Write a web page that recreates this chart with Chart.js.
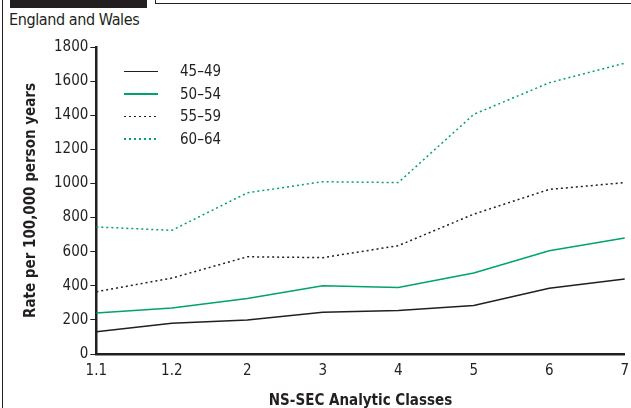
<!DOCTYPE html>
<html>
<head>
<meta charset="utf-8">
<script src="https://cdn.jsdelivr.net/npm/chart.js@4.4.0/dist/chart.umd.min.js"></script>
<style>
  body { margin: 0; background: #fff; font-family: "DejaVu Sans Condensed", "Liberation Sans", sans-serif; }
  #frame { position: relative; width: 631px; height: 408px; overflow: hidden; }
  #bar { position: absolute; left: 10px; top: 0; width: 137px; height: 8px; background: #231f20; }
  #box { position: absolute; left: 155px; top: -2px; width: 480px; height: 5px; border: 1px solid #231f20; border-top: none; }
  #leftline { position: absolute; left: 2px; top: 0; width: 1px; height: 408px; background: #231f20; }
  #title { position: absolute; left: 9px; top: 10px; font-size: 16px; color: #231f20; letter-spacing: -0.4px; }
  #wrap { position: absolute; left: 0; top: 36px; width: 631px; height: 378px; }
  #legend { position: absolute; left: 124px; top: 60px; font-size: 15px; color: #231f20; }
  .row { display: flex; align-items: center; height: 22.5px; }
  .sw { width: 34px; margin-right: 22px; height: 1.5px; }
</style>
</head>
<body>
<div id="frame">
  <div id="leftline"></div>
  <div id="bar"></div>
  <div id="box"></div>
  <div id="title">England and Wales</div>
  <div id="wrap"><canvas id="chart"></canvas></div>
  <div id="legend"></div>
</div>
<script>
// Dati
const classes = ['1.1', '1.2', '2', '3', '4', '5', '6', '7'];
const age4549 = [130, 180, 200, 245, 255, 285, 385, 440];
const age5054 = [240, 270, 325, 400, 390, 475, 605, 680];
const age5559 = [365, 445, 570, 565, 635, 820, 965, 1005];
const age6064 = [745, 725, 945, 1010, 1005, 1405, 1590, 1705];

const series = [
    { label: '45–49', data: age4549, color: '#231f20', dash: [] },
    { label: '50–54', data: age5054, color: '#00a36c', dash: [] },
    { label: '55–59', data: age5559, color: '#231f20', dash: [2, 3] },
    { label: '60–64', data: age6064, color: '#00a36c', dash: [2, 3] }
];

const FONT = '"DejaVu Sans Condensed", "Liberation Sans", sans-serif';

// Legenda HTML
const legendEl = document.getElementById('legend');
series.forEach(s => {
    const row = document.createElement('div');
    row.className = 'row';
    const sw = document.createElement('div');
    sw.className = 'sw';
    sw.style.background = s.dash.length
        ? `repeating-linear-gradient(to right, ${s.color} 0 2px, transparent 2px 5px)`
        : s.color;
    const txt = document.createElement('span');
    txt.textContent = s.label;
    row.appendChild(sw);
    row.appendChild(txt);
    legendEl.appendChild(row);
});

new Chart(document.getElementById('chart'), {
    type: 'line',
    data: {
        labels: classes,
        datasets: series.map(s => ({
            label: s.label,
            data: s.data,
            borderColor: s.color,
            borderDash: s.dash,
            borderWidth: 1.5,
            pointRadius: 0,
            tension: 0,
            fill: false
        }))
    },
    options: {
        responsive: true,
        maintainAspectRatio: false,
        animation: false,
        layout: { padding: { left: 18, right: 4, top: 4, bottom: 0 } },
        plugins: { legend: { display: false }, tooltip: { enabled: false } },
        scales: {
            x: {
                offset: false,
                grid: { display: false, drawOnChartArea: false, drawTicks: true, tickLength: 6, color: '#231f20' },
                border: { color: '#231f20', width: 2.5 },
                ticks: { color: '#231f20', font: { family: FONT, size: 15 }, padding: 2, maxRotation: 0 },
                title: { display: true, text: 'NS-SEC Analytic Classes', color: '#231f20',
                         font: { family: FONT, size: 15, weight: 'bold' }, padding: { top: 10 } }
            },
            y: {
                min: 0, max: 1800,
                ticks: { stepSize: 200, color: '#231f20', font: { family: FONT, size: 15 }, padding: 2,
                         callback: v => String(v) },
                grid: { drawOnChartArea: false, drawTicks: true, tickLength: 6, color: '#231f20' },
                border: { color: '#231f20', width: 2.5 },
                title: { display: true, text: 'Rate per 100,000 person years', color: '#231f20',
                         font: { family: FONT, size: 15, weight: 'bold' }, padding: { bottom: 12 } }
            }
        }
    }
});
</script>
</body>
</html>
